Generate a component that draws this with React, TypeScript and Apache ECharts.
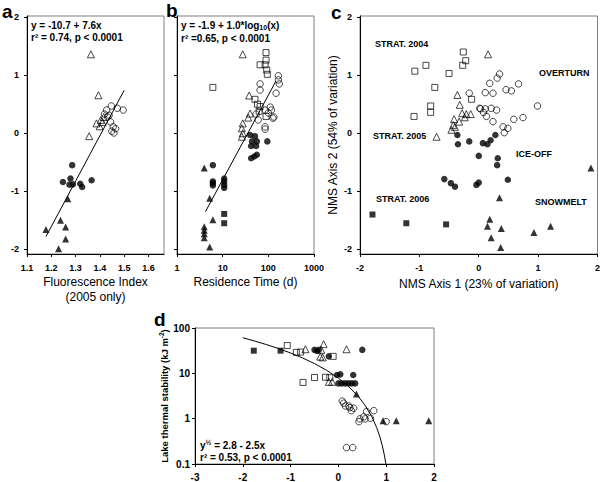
import React, { useEffect, useRef } from "react";
import * as echarts from "echarts";

const FONT = "'Liberation Sans', Arial, Helvetica, sans-serif";

// ---------- Panel a: Fluorescence Index vs NMS axis 2 ----------
const aOpenTri: [number, number][] = [
  [1.363, 1.36], [1.394, 0.655], [1.356, -0.05], [1.386, 0.17], [1.399, 0.12],
  [1.411, 0.195], [1.416, 0.28], [1.404, 0.23],
];
const aOpenCirc: [number, number][] = [
  [1.428, 0.4], [1.447, 0.47], [1.472, 0.43], [1.496, 0.4], [1.438, 0.31], [1.432, 0.28],
  [1.444, 0.195], [1.455, 0.11], [1.465, 0.08], [1.449, 0.035], [1.458, 0.005], [1.419, 0.33],
];
const aFillCirc: [number, number][] = [
  [1.286, -0.55], [1.248, -0.84], [1.279, -0.78], [1.275, -0.885], [1.289, -0.88],
  [1.319, -0.87], [1.327, -0.925], [1.366, -0.81],
];
const aFillTri: [number, number][] = [
  [1.268, -1.13], [1.238, -1.5], [1.178, -1.66], [1.259, -1.615], [1.259, -1.82], [1.23, -1.99],
];
const aFit: [number, number][] = [[1.178, -1.78], [1.5, 0.74]];
const aXTicks = [1.1, 1.2, 1.3, 1.4, 1.5, 1.6];

// ---------- Panel b: Residence time ----------
const bOpenTri: [number, number][] = [
  [27.5, 1.36], [38, 0.65], [27.5, 0.17], [26.3, 0.085], [27.5, 0.0], [26.3, -0.06],
  [36.3, 0.27], [39.8, 0.34],
];
const bOpenSq: [number, number][] = [
  [6.1, 0.79], [89, 1.39], [66, 1.18], [85, 1.18], [89, 1.26], [92, 1.09], [95, 1.015],
  [51, 0.585], [66, 0.46], [63, 0.38], [89, 0.29], [58, 0.5],
];
const bOpenCirc: [number, number][] = [
  [166, 0.99], [166, 0.92], [174, 0.85], [66, 0.85], [66, 0.745], [148, 0.69], [110, 0.45],
  [117, 0.4], [126, 0.26], [85, 0.4], [60, 0.23], [85, 0.11], [85, 0.07], [54, 0.33],
  [100, 0.35], [132, 0.28],
];
const bFillCirc: [number, number][] = [
  [6.1, -0.55], [6.1, -0.83], [6.1, -0.86], [6.1, -0.9], [10.8, -0.78], [10.8, -0.83],
  [10.8, -0.89], [10.8, -0.94], [40, -0.03], [51, -0.05], [44, -0.14], [56, -0.14],
  [42, -0.22], [54, -0.22], [95, -0.14], [42, -0.43], [49, -0.4], [56, -0.37],
];
const bFillTri: [number, number][] = [
  [3.95, -0.6], [5.2, -1.12], [6.1, -1.49], [3.95, -1.61], [3.95, -1.67], [3.95, -1.73],
  [3.95, -1.8], [5.2, -1.96],
];
const bFillSq: [number, number][] = [[10.8, -1.39], [10.8, -1.55]];
const bFit: [number, number][] = [[4.2, -1.35], [147, 0.9]];

// ---------- Panel c: NMS ordination ----------
const cOpenSq: [number, number][] = [
  [-1.076, 1.07], [-0.89, 1.17], [-0.5, 1.03], [-0.26, 1.4], [-0.22, 1.25], [-0.27, 1.17],
  [-0.74, 0.79], [-0.81, 0.47], [-0.81, 0.36], [-1.09, 0.29], [-0.12, 0.585],
];
const cFillSq: [number, number][] = [[-1.79, -1.4], [-1.22, -1.55], [-0.55, -1.57]];
const cOpenTri: [number, number][] = [
  [-0.36, 0.66], [-0.32, 0.49], [-0.28, 0.345], [-0.21, 0.33], [-0.135, 0.33], [-0.415, 0.245],
  [-0.235, 0.275], [-0.33, 0.2], [-0.43, 0.14], [-0.4, 0.11], [-0.46, 0.06], [-0.71, -0.06],
  [0.157, 1.36],
];
const cOpenCirc: [number, number][] = [
  [-0.16, 0.69], [0.017, 0.43], [0.35, 1.02], [0.31, 0.95], [0.185, 0.86], [0.67, 0.85],
  [0.11, 0.7], [0.24, 0.69], [0.46, 0.75], [0.55, 0.73], [0.99, 0.47], [0.03, 0.42],
  [0.11, 0.42], [0.21, 0.43], [0.3, 0.4], [0.13, 0.29], [0.24, 0.2], [0.59, 0.24],
  [0.745, 0.27], [0.41, 0.11], [0.49, 0.085], [0.43, 0.01], [0.08, 0.36],
];
const cFillCirc: [number, number][] = [
  [-0.36, -0.03], [-0.16, -0.14], [-0.35, -0.19], [0.0, -0.39], [-0.58, -0.79], [-0.47, -0.86],
  [-0.4, -0.92], [-0.04, -0.89], [0.28, -0.03], [0.2, -0.12], [0.07, -0.17], [0.146, -0.19],
  [0.32, -0.43], [0.31, -0.55], [0.49, -0.8], [0.0, -0.85],
];
const cFillTri: [number, number][] = [
  [0.35, -1.11], [0.185, -1.48], [0.146, -1.6], [0.38, -1.64], [0.21, -1.8], [0.37, -1.97],
  [0.93, -1.71], [1.21, -1.6], [1.89, -0.6],
];
const cLabels: [string, number, number][] = [
  ["STRAT. 2004", 375, 44], ["STRAT. 2005", 373, 136], ["STRAT. 2006", 376, 199],
  ["OVERTURN", 539, 73], ["ICE-OFF", 516, 154], ["SNOWMELT", 535, 202],
];

// ---------- Panel d: Lake thermal stability ----------
const dFillSq: [number, number][] = [[-1.77, 31.6], [-1.21, 31.6]];
const dOpenSq: [number, number][] = [
  [-1.07, 41], [-0.88, 29], [-0.79, 29.5], [-0.74, 6.3], [-0.5, 8.1], [-0.11, 23.7],
  [-0.27, 8.2], [-0.18, 8.0],
];
const dOpenTri: [number, number][] = [
  [-0.69, 34], [-0.31, 44], [0.17, 34], [-0.38, 23.4], [-0.33, 22.5], [-0.2, 6.5],
  [-0.13, 6.5], [-0.36, 33],
];
const dFillCirc: [number, number][] = [
  [-0.5, 33], [-0.41, 33], [0.5, 33], [-0.2, 23.7], [-0.03, 9.2], [0.04, 9.5], [0.31, 9.2],
  [0.0, 6], [0.07, 6], [0.14, 6], [0.21, 6], [0.28, 6], [0.35, 6], [-0.45, 31],
];
const dFillTri: [number, number][] = [[0.377, 3.5], [0.935, 0.9], [1.21, 0.9], [1.89, 0.9]];
const dOpenCirc: [number, number][] = [
  [0.08, 2.45], [0.11, 2.2], [0.15, 1.9], [0.22, 1.9], [0.27, 1.5], [0.24, 1.75], [0.32, 1.7],
  [0.59, 1.43], [0.74, 1.5], [0.53, 1.1], [0.45, 0.99], [0.43, 0.86], [0.67, 1.02],
  [0.56, 0.99], [1.0, 0.86], [0.17, 0.23], [0.3, 0.23],
];
// fitted curve: y^(1/2) = 2.8 - 2.5x, sampled at these x values
const dFitX = [-2, -1.75, -1.5, -1.25, -1, -0.75, -0.5, -0.25, 0, 0.2, 0.4, 0.55, 0.7, 0.8, 0.87, 0.92, 0.96, 0.993];

const nmsTicks = [-2, -1, 0, 1, 2];

function scatter(idx: number, data: [number, number][], kind: string) {
  const filled = kind.startsWith("f");
  const shape = kind.endsWith("Circ") ? "circle" : kind.endsWith("Tri") ? "triangle" : "rect";
  const size = shape === "circle" ? 6.5 : shape === "triangle" ? 7 : 6;
  return {
    type: "scatter",
    xAxisIndex: idx,
    yAxisIndex: idx,
    data,
    symbol: shape,
    symbolSize: size,
    itemStyle: {
      color: filled ? "#000" : "rgba(255,255,255,0)",
      borderColor: "#000",
      borderWidth: filled ? 0 : 0.9,
    },
    emphasis: { disabled: true },
    z: 3,
  };
}

function fitLine(idx: number, data: [number, number][]) {
  return {
    type: "line",
    xAxisIndex: idx,
    yAxisIndex: idx,
    data,
    symbol: "none",
    lineStyle: { color: "#000", width: 1 },
    emphasis: { disabled: true },
    z: 2,
  };
}

const fmt = (v: number) => String(Math.round(v * 1000) / 1000);

function axis(extra: any, labelExtra: any = {}, tickExtra: any = {}) {
  return {
    splitLine: { show: false },
    axisLine: { show: true, onZero: false, lineStyle: { color: "#000", width: 1 } },
    axisTick: { show: true, length: 3, lineStyle: { color: "#000" }, ...tickExtra },
    axisLabel: {
      color: "#000",
      fontFamily: FONT,
      fontWeight: "bold",
      fontSize: 9,
      ...labelExtra,
    },
    nameTextStyle: { color: "#000", fontFamily: FONT, fontSize: 12, lineHeight: 15 },
    ...extra,
  };
}

const gridStyle = { show: true, borderColor: "#808080", borderWidth: 1, backgroundColor: "rgba(0,0,0,0)" };

const boldText = (text: string, x: number, y: number, size = 10, rich?: any) => ({
  type: "text",
  x,
  y,
  style: {
    text,
    fill: "#000",
    font: `bold ${size}px ${FONT}`,
    verticalAlign: "middle",
    rich,
  },
});

const supRich = {
  sup: { fontSize: 7, fontWeight: "bold", fontFamily: FONT, verticalAlign: "top", padding: [0, 0, 5, 0], fill: "#000" },
  sub: { fontSize: 7, fontWeight: "bold", fontFamily: FONT, padding: [5, 0, 0, 0], fill: "#000" },
};

export default function App() {
  const ref = useRef<HTMLDivElement>(null);
  useEffect(() => {
    const chart = echarts.init(ref.current!, null, { renderer: "svg" });
    const yTicksNMS = { customValues: nmsTicks };
    const option: any = {
      animation: false,
      textStyle: { fontFamily: FONT },
      grid: [
        { left: 27, top: 16, width: 137, height: 238, ...gridStyle },
        { left: 177, top: 16, width: 137, height: 238, ...gridStyle },
        { left: 360, top: 16, width: 238, height: 238, ...gridStyle },
        { left: 195, top: 328, width: 239, height: 136, ...gridStyle },
      ],
      xAxis: [
        axis(
          {
            gridIndex: 0, type: "value", min: 1.1, max: 1.664,
            name: "Fluorescence Index\n(2005 only)", nameLocation: "middle", nameGap: 20,
          },
          { customValues: aXTicks, margin: 9, formatter: (v: number) => v.toFixed(1) },
          { customValues: aXTicks }
        ),
        axis(
          {
            gridIndex: 1, type: "log", logBase: 10, min: 1, max: 1000,
            name: "Residence Time (d)", nameLocation: "middle", nameGap: 20,
          },
          { margin: 9, formatter: fmt }
        ),
        axis(
          {
            gridIndex: 2, type: "value", min: -2, max: 2, interval: 1,
            name: "NMS Axis 1 (23% of variation)", nameLocation: "middle", nameGap: 22,
          },
          { margin: 9 }
        ),
        axis(
          { gridIndex: 3, type: "value", min: -3, max: 2, interval: 1 },
          { margin: 8, fontSize: 10 }
        ),
      ],
      yAxis: [
        axis({ gridIndex: 0, type: "value", min: -2.08, max: 2.02 }, { margin: 8, ...yTicksNMS }, yTicksNMS),
        axis({ gridIndex: 1, type: "value", min: -2.08, max: 2.02 }, { show: false, ...yTicksNMS }, yTicksNMS),
        axis(
          {
            gridIndex: 2, type: "value", min: -2.08, max: 2.02,
            name: "NMS Axis 2 (54% of variation)", nameLocation: "middle", nameGap: 15,
          },
          { margin: 8, ...yTicksNMS },
          yTicksNMS
        ),
        axis(
          {
            gridIndex: 3, type: "log", logBase: 10, min: 0.1, max: 100,
            name: "Lake thermal stability (kJ m{sup|-2})", nameLocation: "middle", nameGap: 20,
            nameTextStyle: {
              color: "#000", fontFamily: FONT, fontSize: 9.5, fontWeight: "bold",
              rich: { sup: { fontSize: 6.5, fontWeight: "bold", fontFamily: FONT, padding: [0, 0, 5, 0] } },
            },
          },
          { margin: 5, fontSize: 10, formatter: fmt }
        ),
      ],
      series: [
        fitLine(0, aFit),
        scatter(0, aOpenTri, "oTri"),
        scatter(0, aOpenCirc, "oCirc"),
        scatter(0, aFillCirc, "fCirc"),
        scatter(0, aFillTri, "fTri"),

        fitLine(1, bFit),
        scatter(1, bOpenTri, "oTri"),
        scatter(1, bOpenSq, "oSq"),
        scatter(1, bOpenCirc, "oCirc"),
        scatter(1, bFillCirc, "fCirc"),
        scatter(1, bFillTri, "fTri"),
        scatter(1, bFillSq, "fSq"),

        scatter(2, cOpenSq, "oSq"),
        scatter(2, cFillSq, "fSq"),
        scatter(2, cOpenTri, "oTri"),
        scatter(2, cOpenCirc, "oCirc"),
        scatter(2, cFillCirc, "fCirc"),
        scatter(2, cFillTri, "fTri"),

        fitLine(3, dFitX.map((x) => [x, Math.pow(2.8 - 2.5 * x, 2)] as [number, number])),
        scatter(3, dFillSq, "fSq"),
        scatter(3, dOpenSq, "oSq"),
        scatter(3, dOpenTri, "oTri"),
        scatter(3, dFillCirc, "fCirc"),
        scatter(3, dFillTri, "fTri"),
        scatter(3, dOpenCirc, "oCirc"),
      ],
      graphic: [
        boldText("a", 2, 11, 19),
        boldText("b", 166, 10, 19),
        boldText("c", 331, 12, 19),
        boldText("d", 154, 319, 19),
        boldText("y = -10.7 + 7.6x", 31, 25),
        boldText("r² = 0.74, p < 0.0001", 31, 37),
        boldText("y = -1.9 + 1.0*log{sub|10}(x)", 181, 25, 10, supRich),
        boldText("r² =0.65, p < 0.0001", 181, 38),
        boldText("y{sup|½} = 2.8 - 2.5x", 200, 445, 10, supRich),
        boldText("r² = 0.53, p < 0.0001", 200, 457),
        ...cLabels.map(([t, x, y]) => boldText(t, x, y, 9)),
      ],
    };
    chart.setOption(option);
    return () => chart.dispose();
  }, []);
  return (
    <div
      ref={ref}
      style={{ position: "fixed", left: 0, top: 0, width: 603, height: 482, background: "#fff" }}
    />
  );
}
